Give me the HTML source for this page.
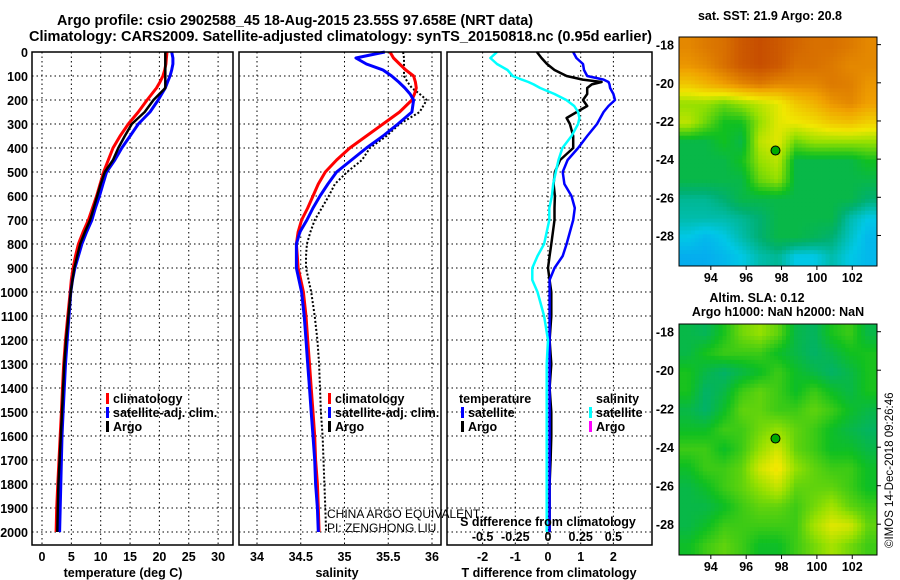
<!DOCTYPE html>
<html><head><meta charset="utf-8"><style>
body{margin:0;background:#fff}
svg{display:block;font-family:"Liberation Sans",sans-serif}
.b{font-weight:bold;font-size:12.5px}
</style></head><body>
<svg id="c" width="900" height="580" viewBox="0 0 900 580"></svg>
<script>
const depths=[0,25,50,75,100,125,150,175,200,250,300,350,400,450,500,550,600,650,700,750,800,850,900,950,1000,1100,1200,1300,1400,1500,1600,1700,1800,1900,2000];
const tempArgo=[21,21,21,21,21,21,21,20,19,17.5,15.3,14.1,13,12.1,10.7,10,9.4,8.8,8.2,7.3,6.5,6,5.5,5.2,4.9,4.5,4.1,3.8,3.6,3.4,3.2,3,2.8,2.7,2.6];
const tempClim=[21.3,21.2,21.1,20.9,20.6,20.1,19.5,18.7,17.9,16.4,14.7,13.3,12.1,11.3,10.5,9.9,9.3,8.6,7.9,7,6.2,5.7,5.3,5,4.8,4.4,4,3.7,3.5,3.3,3.1,2.9,2.7,2.5,2.4];
const tempSat=[22.1,22.3,22.3,22.1,21.8,21.4,21,20.4,19.8,18.4,16.4,15,13.6,12.4,11,10.4,9.8,9.1,8.5,7.6,6.8,6.2,5.6,5.2,4.9,4.6,4.3,4,3.8,3.6,3.4,3.3,3.2,3.1,3.0];
const salSat=[35.46,35.13,35.25,35.44,35.54,35.62,35.69,35.75,35.79,35.77,35.61,35.44,35.25,35.08,34.91,34.81,34.72,34.64,34.57,34.49,34.45,34.45,34.45,34.48,34.51,34.54,34.56,34.58,34.6,34.62,34.64,34.66,34.67,34.69,34.7];
const salClim=[35.52,35.56,35.63,35.7,35.79,35.81,35.82,35.8,35.77,35.63,35.44,35.25,35.06,34.91,34.78,34.7,34.64,34.58,34.51,34.47,34.45,34.46,34.47,34.5,34.53,34.56,34.58,34.6,34.62,34.64,34.66,34.67,34.69,34.7,34.71];
const salArgo=[35.67,35.68,35.68,35.68,35.68,35.72,35.77,35.86,35.94,35.86,35.63,35.48,35.29,35.2,35.03,34.89,34.82,34.74,34.66,34.61,34.57,34.56,34.56,34.59,34.62,34.66,34.69,34.71,34.72,34.73,34.75,34.76,34.77,34.78,34.79];
const diffDepths=[0,25,50,75,100,115,125,135,150,175,200,225,250,275,300,350,400,450,500,550,600,650,700,750,800,850,900,950,1000,1100,1200,1300,1400,1500,1600,1700,1800,1900,2000];
const tDiffArgo=[-0.34,-0.2,-0.03,0.2,0.57,1.06,1.64,1.34,1.2,1.2,1.07,1.2,0.88,0.57,0.67,0.77,0.77,0.37,0.21,0.17,0.21,0.2,0.2,0.15,0.1,0.05,0,0.05,0.1,0.1,0.05,0.1,0.05,0.1,0.1,0.08,0.05,0.05,0.05];
const tDiffSat=[0.77,0.87,1.07,1.1,1.2,1.7,1.85,1.88,1.9,2.0,2.05,1.85,1.7,1.6,1.5,1.2,0.92,0.6,0.45,0.5,0.72,0.82,0.77,0.67,0.57,0.45,0.2,0.05,0.05,0.05,0.05,0.05,0.05,0.05,0.05,0.05,0.05,0.05,0.05];
const sDiffSat=[-0.39,-0.44,-0.39,-0.31,-0.27,-0.2,-0.15,-0.11,-0.06,0.05,0.14,0.2,0.23,0.24,0.23,0.18,0.11,0.08,0.06,0.04,0.03,0.01,0.01,-0.01,-0.03,-0.08,-0.12,-0.12,-0.08,-0.03,0,-0.01,-0.01,-0.01,-0.01,-0.01,-0.01,-0.01,-0.01];
const depthTicks=[0,100,200,300,400,500,600,700,800,900,1000,1100,1200,1300,1400,1500,1600,1700,1800,1900,2000];
const tempTicks=[0,5,10,15,20,25,30];
const salTicks=[34,34.5,35,35.5,36];
const tDiffTicks=[-2,-1,0,1,2];
const sDiffTicks=[-0.5,-0.25,0,0.25,0.5];
const mapLonTicks=[94,96,98,100,102];
const mapLatTicks=[-18,-20,-22,-24,-26,-28];
const sstGrid=[
[.85,.88,.9,.95,.97,.95,.92,.9,.9,.88,.85],
[.82,.85,.9,.95,.97,.95,.9,.9,.88,.85,.85],
[.7,.75,.8,.85,.88,.85,.85,.85,.88,.87,.82],
[.5,.5,.45,.5,.55,.6,.7,.75,.82,.85,.8],
[.55,.45,.35,.35,.5,.6,.62,.65,.7,.72,.68],
[.3,.3,.35,.3,.55,.6,.45,.5,.5,.5,.5],
[.3,.3,.3,.35,.5,.55,.3,.3,.3,.3,.35],
[.3,.3,.3,.3,.45,.5,.3,.3,.3,.3,.3],
[.22,.22,.25,.3,.3,.3,.3,.3,.3,.3,.25],
[.2,.2,.2,.22,.25,.3,.3,.3,.3,.2,.15],
[.15,.12,.15,.2,.25,.3,.3,.28,.25,.18,.12],
[.1,.1,.12,.15,.2,.22,.15,.15,.2,.15,.12]];
const slaGrid=[
[.3,.28,.36,.46,.5,.44,.3,.27,.36,.4,.3],
[.3,.36,.4,.4,.4,.34,.3,.26,.3,.35,.36],
[.36,.3,.26,.3,.34,.4,.34,.3,.26,.3,.36],
[.36,.26,.3,.4,.44,.4,.34,.4,.34,.3,.36],
[.3,.26,.34,.44,.44,.4,.4,.44,.4,.34,.3],
[.34,.34,.4,.4,.46,.5,.44,.4,.34,.3,.27],
[.4,.4,.34,.4,.5,.58,.44,.4,.34,.34,.3],
[.34,.4,.4,.44,.58,.64,.5,.44,.4,.4,.34],
[.3,.34,.4,.44,.5,.56,.44,.44,.44,.4,.34],
[.3,.3,.34,.4,.44,.44,.4,.46,.52,.44,.4],
[.3,.34,.4,.4,.4,.4,.4,.52,.6,.58,.44],
[.34,.4,.44,.4,.34,.34,.4,.46,.52,.46,.4]];
const argoLon=97.658, argoLat=-23.55;

const NS="http://www.w3.org/2000/svg";
const svg=document.getElementById('c');
function mk(t,a,p){const e=document.createElementNS(NS,t);for(const k in a)e.setAttribute(k,a[k]);(p||svg).appendChild(e);return e;}
function txt(x,y,s,cls,anchor,p){const e=mk('text',{x:x,y:y,class:cls||'b','text-anchor':anchor||'start'},p);e.textContent=s;return e;}
const Y=d=>52+d*0.24;
const xT=v=>42+v*5.87, xS=v=>257+(v-34)*87.5, xD=v=>548+v*32.7, xSD=v=>548+v*4*32.7;
const panels=[{x0:32,x1:233},{x0:239,x1:441},{x0:447,x1:652}];

panels.forEach((p,i)=>{
  const g=mk('g',{});
  
  
  depthTicks.forEach(d=>{const l=mk('line',{x1:p.x0,x2:p.x1,y1:Y(d),y2:Y(d),stroke:'#000','stroke-dasharray':'1.5,3','stroke-width':1},g);});
});
function vgrid(ticks,f,name){ticks.forEach(t=>{const l=mk('line',{x1:f(t),x2:f(t),y1:52,y2:545,stroke:'#000','stroke-dasharray':'1.5,3','stroke-width':1});});}
vgrid(tempTicks,xT,'temperature-gridline');
vgrid(salTicks,xS,'salinity-gridline');
vgrid(tDiffTicks,xD,'diff-gridline');

function line(ds,vals,f,col,w,name,dash){
  const pts=vals.map((v,i)=>f(v).toFixed(1)+','+Y(ds[i]).toFixed(1)).join(' ');
  const a={points:pts,fill:'none',stroke:col,'stroke-width':w,'stroke-linejoin':'round'};
  if(dash)a['stroke-dasharray']=dash;
  const e=mk('polyline',a);
  
  
}
line(depths,tempClim,xT,'#f00',3,'temp-climatology-line');
line(depths,tempSat,xT,'#00f',3,'temp-satellite-line');
line(depths,tempArgo,xT,'#000',2.5,'temp-argo-line');
line(depths,salArgo,xS,'#000',2,'sal-argo-line','2,2');
line(depths,salClim,xS,'#f00',3,'sal-climatology-line');
line(depths,salSat,xS,'#00f',3,'sal-satellite-line');
line(diffDepths,tDiffArgo,xD,'#000',2.5,'tdiff-argo-line');
line(diffDepths,tDiffSat,xD,'#00f',2.5,'tdiff-satellite-line');
line(diffDepths,sDiffSat,xSD,'#0ff',2.5,'sdiff-satellite-line');

panels.forEach((p,i)=>{const r=mk('rect',{x:p.x0,y:52,width:p.x1-p.x0,height:493,fill:'none',stroke:'#000','stroke-width':1.5});});
depthTicks.forEach(d=>{const t=txt(28,Y(d)+5,String(d),'b','end');});
tempTicks.forEach(v=>{const t=txt(xT(v),561,String(v),'b','middle');});
salTicks.forEach(v=>{const t=txt(xS(v),561,String(v),'b','middle');});
tDiffTicks.forEach(v=>{const t=txt(xD(v),561,String(v),'b','middle');});
sDiffTicks.forEach(v=>{const t=txt(xSD(v),541,String(v),'b','middle');});

function col(v){const stops=[[0,[16,120,255]],[.15,[0,200,230]],[.25,[0,176,112]],[.35,[16,192,32]],[.5,[150,224,0]],[.62,[240,232,0]],[.8,[240,160,0]],[1,[192,64,0]]];
 for(let i=1;i<stops.length;i++){if(v<=stops[i][0]){const a=stops[i-1],b=stops[i],t=(v-a[0])/(b[0]-a[0]);return 'rgb('+a[1].map((c,k)=>Math.round(c+(b[1][k]-c)*t)).join(',')+')';}}return 'rgb(192,64,0)';}
function sample(grid,fx,fy){const R=grid.length,C=grid[0].length;
  const x=Math.max(0,Math.min(C-1,fx*C-0.5)),y=Math.max(0,Math.min(R-1,fy*R-0.5));
  const x0=Math.floor(x),y0=Math.floor(y),x1=Math.min(C-1,x0+1),y1=Math.min(R-1,y0+1),tx=x-x0,ty=y-y0;
  return grid[y0][x0]*(1-tx)*(1-ty)+grid[y0][x1]*tx*(1-ty)+grid[y1][x0]*(1-tx)*ty+grid[y1][x1]*tx*ty;}
function drawMap(grid,x0,y0,x1,y1,name,cell){
  const g=mk('g',{});
  const W=x1-x0,H=y1-y0,nx=Math.ceil(W/cell),ny=Math.ceil(H/cell);
  for(let i=0;i<ny;i++)for(let j=0;j<nx;j++){
    const v=sample(grid,(j+0.5)/nx,(i+0.5)/ny);
    const c=mk('rect',{x:x0+j*W/nx,y:y0+i*H/ny,width:W/nx+0.4,height:H/ny+0.4,fill:col(v)},g);
    
    
  }
  const lonX=l=>x0+(l-92.2)*W/11.2, latY=l=>y0+(-17.6-l)*H/12;
  mk('rect',{x:x0,y:y0,width:W,height:H,fill:'none',stroke:'#000','stroke-width':1},g);
  mapLatTicks.forEach(l=>{mk('line',{x1:x1,x2:x1+4,y1:latY(l),y2:latY(l),stroke:'#000'},g);const t=txt(x0-5,latY(l)+5,String(l),'b','end',g);});
  mapLonTicks.forEach(l=>{mk('line',{x1:lonX(l),x2:lonX(l),y1:y1,y2:y1+4,stroke:'#000'},g);const t=txt(lonX(l),y1+16,String(l),'b','middle',g);});
  const m=mk('circle',{cx:lonX(argoLon),cy:latY(argoLat),r:4.5,fill:'#0a0',stroke:'#000','stroke-width':1},g);
  
}
drawMap(sstGrid,679,37,877,266,'sst-map',4);
drawMap(slaGrid,679,324,877,555,'sla-map',4);

function leg(x,y,c,s,n){mk('rect',{x:x,y:y-10,width:3,height:11,fill:c});const t=txt(x+7,y,s);}
leg(106,403,'#f00','climatology','legend-temp-climatology');
leg(106,417,'#00f','satellite-adj. clim.','legend-temp-satellite');
leg(106,431,'#000','Argo','legend-temp-argo');
leg(328,403,'#f00','climatology','legend-sal-climatology');
leg(328,417,'#00f','satellite-adj. clim.','legend-sal-satellite');
leg(328,431,'#000','Argo','legend-sal-argo');
leg(461,417,'#00f','satellite','legend-tdiff-satellite');
leg(461,431,'#000','Argo','legend-tdiff-argo');
leg(589,417,'#0ff','satellite','legend-sdiff-satellite');
leg(589,431,'#f0f','Argo','legend-sdiff-argo');
</script>
<script>
const s2=document.getElementById('c');
function T(x,y,str,name,anchor,extra){const e=document.createElementNS("http://www.w3.org/2000/svg",'text');e.setAttribute('x',x);e.setAttribute('y',y);e.setAttribute('class','b');e.setAttribute('text-anchor',anchor||'start');if(extra)for(const k in extra)e.setAttribute(k,extra[k]);e.textContent=str;


s2.appendChild(e);return e;}
T(57,25,'Argo profile: csio 2902588_45 18-Aug-2015 23.55S 97.658E (NRT data)','title-line-1','start',{style:'font-size:14.5px',textLength:476,lengthAdjust:'spacingAndGlyphs'});
T(29,41,'Climatology: CARS2009. Satellite-adjusted climatology: synTS_20150818.nc (0.95d earlier)','title-line-2','start',{style:'font-size:14.5px',textLength:623,lengthAdjust:'spacingAndGlyphs'});
T(770,20,'sat. SST: 21.9 Argo: 20.8','sst-map-title','middle');
T(757,302,'Altim. SLA: 0.12','sla-map-title','middle');
T(778,316,'Argo h1000: NaN h2000: NaN','sla-map-subtitle','middle');
T(123,577,'temperature (deg C)','temperature-axis-title','middle');
T(337,577,'salinity','salinity-axis-title','middle');
T(549,577,'T difference from climatology','tdiff-axis-title','middle');
T(548,526,'S difference from climatology','sdiff-axis-title','middle');
T(459,403,'temperature','legend-temperature-header');
T(596,403,'salinity','legend-salinity-header');
T(327,518,'CHINA ARGO EQUIVALENT','data-centre-note','start',{style:'font-size:12px;font-weight:normal'});
T(327,532,'PI: ZENGHONG LIU','pi-note','start',{style:'font-size:12px;font-weight:normal'});
T(893,548,'©IMOS 14-Dec-2018 09:26:46','copyright-note','start',{transform:'rotate(-90 893 548)',style:'font-size:11.5px;font-weight:normal'});
</script>
</body></html>
